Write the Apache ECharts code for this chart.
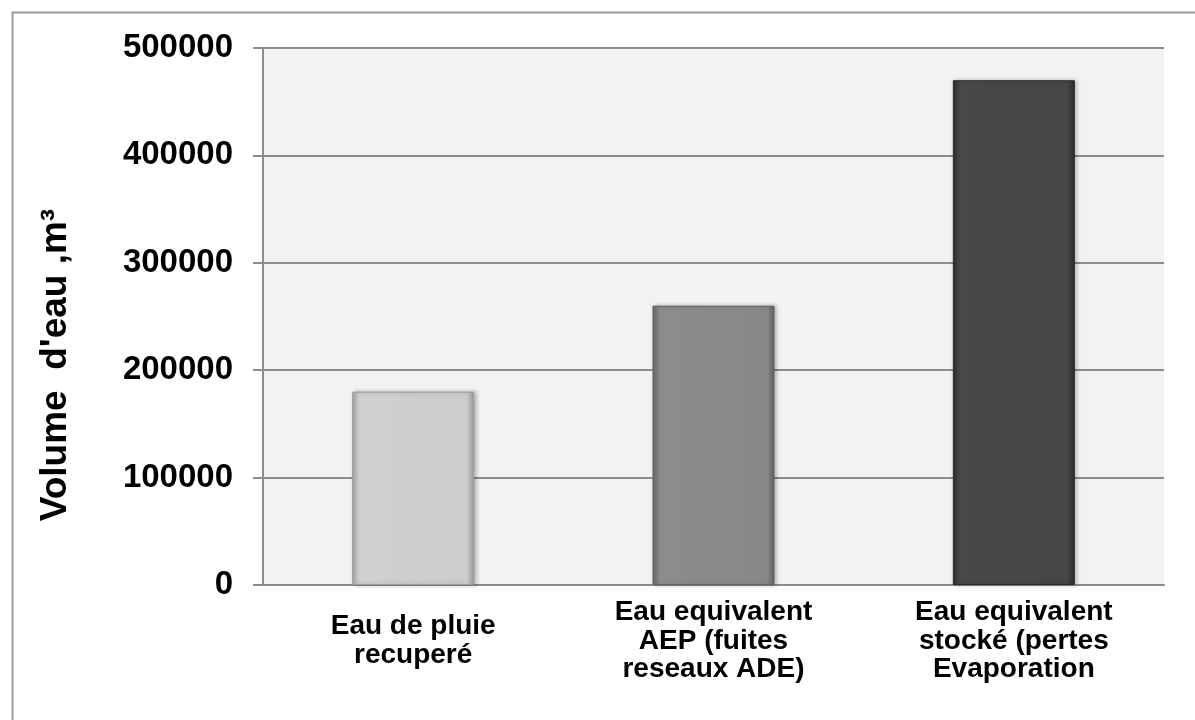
<!DOCTYPE html>
<html>
<head>
<meta charset="utf-8">
<script src="https://cdn.jsdelivr.net/npm/echarts@6/dist/echarts.min.js"></script>
<style>
html,body{margin:0;padding:0;background:#fff;}
#c{width:1195px;height:720px;}
</style>
</head>
<body>
<div id="c"></div>
<script>
var categories = ["Eau de pluie\nrecuperé", "Eau equivalent\nAEP (fuites\nreseaux ADE)", "Eau equivalent\nstocké (pertes\nEvaporation"];
var volumes = [180000, 260000, 470000];
var yTicks = [0, 100000, 200000, 300000, 400000, 500000];
var yTitle = "Volume  d'eau ,m\u00b3";

var barColors = [
  ['#a8a8a8', '#d0d0d0', '#cccccc', '#9a9a9a'],
  ['#6a6a6a', '#8c8c8c', '#888888', '#606060'],
  ['#2e2e2e', '#484848', '#464646', '#2a2a2a']
];
function grad(c) {
  return {
    type: 'linear', x: 0, y: 0, x2: 1, y2: 0,
    colorStops: [
      {offset: 0, color: c[0]}, {offset: 0.06, color: c[1]},
      {offset: 0.94, color: c[2]}, {offset: 1, color: c[3]}
    ]
  };
}
var chart = echarts.init(document.getElementById('c'));
var font = "'Liberation Sans', Arial, sans-serif";
chart.setOption({
  animation: false,
  backgroundColor: '#ffffff',
  graphic: [{
    type: 'rect', left: 10, top: 10, silent: true,
    shape: {width: 1200, height: 720},
    style: {fill: 'none', stroke: '#9a9a9a', lineWidth: 2}
  }, {
    type: 'text', x: 56, y: 365, rotation: Math.PI / 2, silent: true,
    style: {
      text: yTitle, fill: '#000',
      font: 'bold 37px ' + font,
      align: 'center', verticalAlign: 'middle'
    }
  }],
  grid: {
    left: 263, right: 31, top: 48, bottom: 135,
    show: true, backgroundColor: '#f2f2f2', borderWidth: 0
  },
  xAxis: {
    type: 'category',
    data: categories,
    axisLine: {show: true, lineStyle: {color: '#8c8c8c', width: 2}},
    axisTick: {show: false},
    axisLabel: {
      interval: 0,
      margin: 56,
      verticalAlign: 'middle',
      fontFamily: font, fontWeight: 'bold', fontSize: 28,
      lineHeight: 28.5, color: '#000'
    }
  },
  yAxis: {
    type: 'value',
    min: yTicks[0], max: yTicks[yTicks.length - 1], interval: 100000,
    axisLine: {show: true, lineStyle: {color: '#8c8c8c', width: 2}},
    axisTick: {show: true, length: 10, lineStyle: {color: '#8c8c8c', width: 2}},
    splitLine: {show: true, lineStyle: {color: '#8c8c8c', width: 2}},
    axisLabel: {
      margin: 30,
      formatter: function (v) { return String(v); },
      fontFamily: font, fontWeight: 'bold', fontSize: 33, color: '#000'
    }
  },
  series: [{
    type: 'bar',
    barWidth: 122,
    data: volumes.map(function (v, i) {
      return {
        value: v,
        itemStyle: {
          color: grad(barColors[i]),
          borderColor: barColors[i][3], borderWidth: 1,
          shadowBlur: 4, shadowColor: 'rgba(0,0,0,0.25)', shadowOffsetX: 2, shadowOffsetY: 0
        }
      };
    })
  }]
});
</script>
</body>
</html>
